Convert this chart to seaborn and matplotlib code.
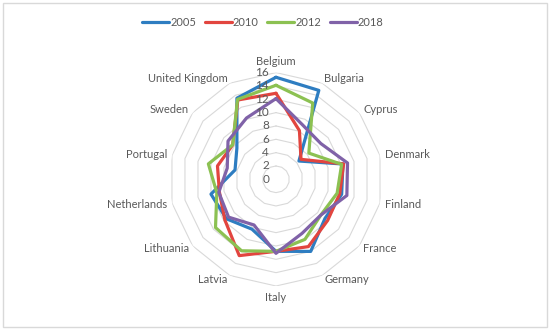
import numpy as np
import pandas as pd
import seaborn as sns
import matplotlib.pyplot as plt
from matplotlib.patches import Rectangle
from matplotlib.transforms import offset_copy

countries = ['Belgium', 'Bulgaria', 'Cyprus', 'Denmark', 'Finland', 'France', 'Germany',
             'Italy', 'Latvia', 'Lithuania', 'Netherlands', 'Portugal', 'Sweden', 'United Kingdom']
years = ['2005', '2010', '2012', '2018']
v2005 = [15.3, 14.8, 4.4, 10.3, 10.1, 9.4, 12.0, 10.8, 8.3, 9.5, 10.0, 6.3, 7.5, 13.5]
v2010 = [12.9, 8.1, 4.8, 10.4, 9.8, 9.9, 11.2, 10.8, 12.7, 9.8, 8.7, 9.0, 8.3, 13.2]
v2012 = [14.1, 12.7, 6.3, 10.1, 9.4, 8.6, 10.0, 10.8, 11.9, 11.6, 9.1, 10.4, 8.3, 13.3]
v2018 = [12.1, 9.1, 8.6, 11.0, 10.9, 8.6, 9.0, 11.1, 7.6, 9.1, 8.8, 7.5, 9.2, 10.2]
rticks = [0, 2, 4, 6, 8, 10, 12, 14, 16]

colors = ['#2e7dc1', '#e2453f', '#8cc152', '#8062a8']
grey = '#595959'

n = len(countries)
angles = np.linspace(0, 2 * np.pi, n, endpoint=False)

# long table, each polygon closed by repeating the first value at 2*pi
rows = []
for year, vals in zip(years, [v2005, v2010, v2012, v2018]):
    for i in range(n):
        rows.append((year, angles[i], vals[i]))
    rows.append((year, 2 * np.pi, vals[0]))
df = pd.DataFrame(rows, columns=['year', 'theta', 'value'])

sns.set_style('white')
plt.rcParams['font.family'] = ['Lato', 'DejaVu Sans']

fig = plt.figure(figsize=(5.5, 3.3), dpi=100)
ax = fig.add_axes([0.3078, 0.1333, 0.388, 0.6467], projection='polar')
ax.set_theta_zero_location('N')
ax.set_theta_direction(-1)
ax.grid(False)
ax.spines['polar'].set_visible(False)
ax.set_xticks([])
ax.set_yticks([])

# polygon grid rings (no spokes in the original)
ring_t = np.append(angles, 2 * np.pi)
for r in rticks[1:]:
    ax.plot(ring_t, [r] * len(ring_t), color='#d9d9d9', lw=0.8, zorder=0)

sns.lineplot(data=df, x='theta', y='value', hue='year', hue_order=years,
             palette=colors, sort=False, estimator=None, lw=2.3, ax=ax)
ax.set_ylim(0, 16)
ax.set_xlabel('')
ax.set_ylabel('')

# radial value labels, left of the vertical axis
tr = offset_copy(ax.transData, fig=fig, x=-5, y=0, units='points')
for r in rticks:
    ax.text(0, r, str(r), transform=tr, ha='right', va='center', fontsize=8.5, color=grey)

# category labels
for a, name in zip(angles, countries):
    s, c = np.sin(a), np.cos(a)
    if abs(s) < 0.1:
        ax.text(a, 16.9, name, ha='center', va='bottom' if c > 0 else 'top',
                fontsize=8, color=grey)
    else:
        ax.text(a, 16.7, name, ha='left' if s > 0 else 'right', va='center',
                fontsize=8, color=grey)

sns.move_legend(ax, 'center', bbox_to_anchor=(0.478, 0.933), bbox_transform=fig.transFigure,
                ncol=4, title=None, frameon=False, fontsize=8, handlelength=2.4,
                handletextpad=0.1, columnspacing=0.8, labelcolor=grey)

fig.patches.append(Rectangle((0.005, 0.008), 0.99, 0.984, transform=fig.transFigure,
                             fill=False, edgecolor='#d9d9d9', lw=1))

fig.savefig('out.png', dpi=100)
